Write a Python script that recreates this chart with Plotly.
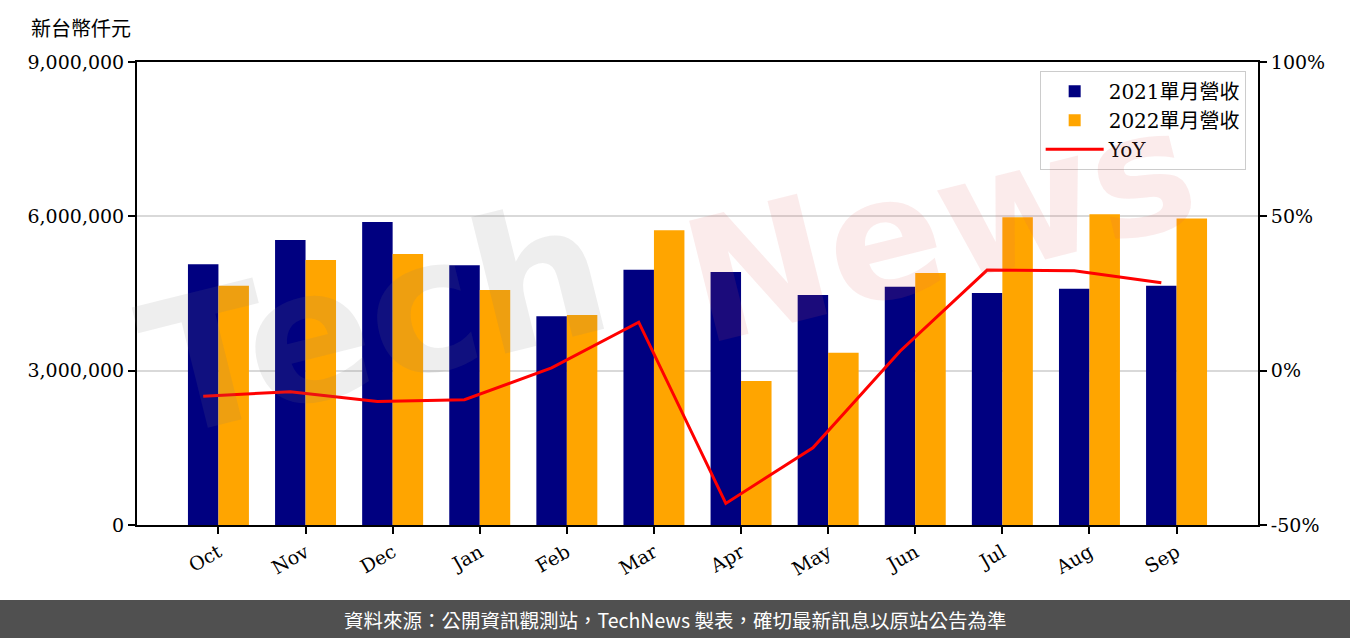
import plotly.graph_objects as go
import numpy as np

months = ["Oct", "Nov", "Dec", "Jan", "Feb", "Mar", "Apr", "May", "Jun", "Jul", "Aug", "Sep"]
rev_2021 = [5070000, 5540000, 5890000, 5050000, 4060000, 4960000, 4920000, 4470000, 4630000, 4510000, 4590000, 4650000]
rev_2022 = [4650000, 5150000, 5270000, 4570000, 4080000, 5730000, 2800000, 3350000, 4900000, 5980000, 6040000, 5960000]
yoy_pct = [-8.3, -6.8, -10.0, -9.4, 0.9, 15.7, -43.0, -25.0, 6.3, 32.6, 32.4, 28.5]
left_ticks = [0, 3000000, 6000000, 9000000]
right_ticks = [-50, 0, 50, 100]
right_labels = ["-50%", "0%", "50%", "100%"]

W = 0.35
idx = np.arange(len(months))

SERIF = "DejaVu Serif, Noto Sans CJK TC, serif"
fig = go.Figure()
fig.add_trace(go.Bar(x=idx, y=rev_2021, width=W, name="2021單月營收",
                     marker=dict(color="#000080", line=dict(width=0))))
fig.add_trace(go.Bar(x=idx + W, y=rev_2022, width=W, name="2022單月營收",
                     marker=dict(color="#FFA500", line=dict(width=0))))
fig.add_trace(go.Scatter(x=idx, y=yoy_pct, yaxis="y2", mode="lines", name="YoY",
                         line=dict(color="#FF0000", width=3)))

fig.update_layout(
    width=1350, height=638,
    margin=dict(l=137, r=92, t=62, b=113),
    paper_bgcolor="white", plot_bgcolor="white",
    barmode="overlay",
    font=dict(family=SERIF, size=19, color="#000000"),
    xaxis=dict(range=[-0.76, 12.11], tickvals=idx + W / 2, ticktext=months,
               tickangle=-30, ticks="outside", ticklen=7, tickwidth=2, tickcolor="#000",
               showline=True, linecolor="#000", linewidth=2, mirror=True,
               showgrid=False, zeroline=False, tickfont=dict(size=19)),
    yaxis=dict(range=[0, 9000000], tickvals=left_ticks, tickformat=",d",
               ticks="outside", ticklen=7, tickwidth=2, tickcolor="#000",
               showline=True, linecolor="#000", linewidth=2,
               showgrid=True, gridcolor="#d9d9d9", gridwidth=1.5, zeroline=False,
               tickfont=dict(size=19)),
    yaxis2=dict(range=[-50, 100], tickvals=right_ticks, ticktext=right_labels,
                overlaying="y", side="right",
                ticks="outside", ticklen=7, tickwidth=2, tickcolor="#000",
                showline=True, linecolor="#000", linewidth=2,
                showgrid=False, zeroline=False, tickfont=dict(size=19)),
    legend=dict(x=0.989, y=0.981, xanchor="right", yanchor="top",
                bgcolor="rgba(255,255,255,0.85)", bordercolor="#cccccc", borderwidth=1,
                font=dict(size=20, family=SERIF), itemwidth=58, tracegroupgap=4),
    showlegend=True,
)

# watermark
fig.add_annotation(text="Tech", xref="paper", yref="paper",
                   x=(375 - 137) / 1121, y=(525 - 320) / 463,
                   xanchor="center", yanchor="middle",
                   showarrow=False, textangle=-14,
                   font=dict(size=185, family="DejaVu Sans", weight="bold",
                             color="rgba(120,120,120,0.13)"))
fig.add_annotation(text="News", xref="paper", yref="paper",
                   x=(940 - 137) / 1121, y=(525 - 225) / 463,
                   xanchor="center", yanchor="middle",
                   showarrow=False, textangle=-14,
                   font=dict(size=170, family="DejaVu Sans", weight="bold",
                             color="rgba(220,90,90,0.12)"))

# y-axis unit title
fig.add_annotation(text="新台幣仟元", xref="paper", yref="paper",
                   x=(81 - 137) / 1121, y=(525 - 27) / 463, xanchor="center", yanchor="middle",
                   showarrow=False, font=dict(size=20, family="Noto Sans CJK TC"))

# footer band
fig.add_shape(type="rect", xref="paper", yref="paper",
              x0=-140 / 1121, x1=(1360 - 137) / 1121,
              y0=(525 - 645) / 463, y1=(525 - 600) / 463,
              fillcolor="#505050", line=dict(width=0), layer="above")
fig.add_annotation(text="資料來源：公開資訊觀測站，TechNews 製表，確切最新訊息以原站公告為準",
                   xref="paper", yref="paper", x=(675 - 137) / 1121, y=(525 - 619) / 463,
                   xanchor="center", yanchor="middle", showarrow=False,
                   font=dict(size=19.5, family="Noto Sans CJK TC", color="#ffffff"))

fig.write_html("out.html", config={"displayModeBar": False},
               post_script="document.body.style.margin='0';document.body.style.overflow='hidden';")
